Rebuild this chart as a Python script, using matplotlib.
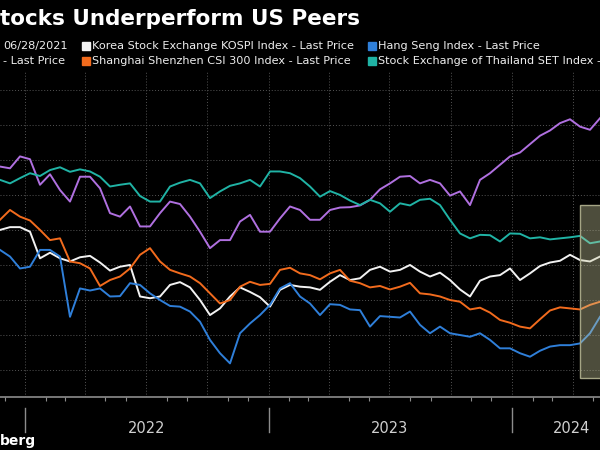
import matplotlib
matplotlib.use("Agg")
import matplotlib.pyplot as plt
import matplotlib.dates as mdates
import matplotlib.transforms as mtransforms
from matplotlib.patches import Rectangle
import pandas as pd

# visible window of the chart, sampled every 15 days
dates = pd.date_range("2021-11-24", periods=61, freq="15D")

# normalized to 100 on 06/28/2021
sp500 = [108.1, 107.6, 111.0, 110.2, 102.9, 105.9, 101.4, 98.1, 105.2, 105.2,
         101.9, 94.8, 93.8, 96.7, 91.0, 91.0, 94.8, 98.1, 97.4, 93.8,
         89.5, 84.8, 87.1, 87.1, 92.4, 94.3, 89.5, 89.5, 93.3, 96.7, 95.7,
         92.9, 92.9, 95.7, 96.4, 96.5, 97.0, 98.6, 101.6, 103.3, 105.2,
         105.4, 103.3, 104.3, 103.3, 99.8, 101.0, 97.1, 104.3, 106.2, 108.6,
         111.0, 112.1, 114.5, 116.9, 118.4, 120.5, 121.6, 119.5, 118.6, 121.9]
kospi = [90.0, 90.8, 90.8, 89.5, 81.9, 83.5, 81.9, 81.0, 82.2, 82.6,
         80.7, 78.4, 79.5, 80.0, 71.0, 70.5, 71.0, 74.3, 75.1, 73.6,
         70.0, 65.7, 67.6, 71.0, 73.6, 72.3, 70.8, 68.1, 72.9, 74.3, 73.8,
         73.6, 72.9, 75.2, 77.1, 75.7, 76.2, 78.6, 79.5, 78.1, 78.6,
         80.0, 78.1, 76.7, 77.8, 75.7, 73.0, 71.0, 75.5, 76.7, 77.1,
         79.0, 75.7, 77.6, 79.7, 80.7, 81.2, 82.9, 81.4, 81.0, 82.4]
hang_seng = [84.3, 82.4, 79.0, 79.5, 84.3, 84.3, 82.4, 65.2, 73.3, 72.7,
             73.3, 71.0, 71.1, 74.8, 74.3, 71.9, 70.0, 68.3, 68.1, 66.7,
             63.8, 58.6, 54.8, 51.9, 60.5, 63.3, 65.7, 68.6, 73.3, 74.8, 71.0,
             69.0, 65.7, 68.8, 68.6, 67.3, 67.1, 62.4, 65.4, 65.2, 65.0,
             66.7, 62.9, 60.5, 62.4, 60.5, 60.0, 59.5, 60.5, 58.6, 56.2,
             56.2, 54.8, 53.8, 55.5, 56.7, 57.1, 57.1, 57.6, 60.5, 65.2]
csi300 = [92.9, 95.7, 93.8, 92.7, 90.0, 87.1, 87.6, 81.0, 80.5, 79.0,
          74.0, 75.7, 76.7, 79.0, 82.9, 84.8, 81.0, 78.6, 77.6, 76.7,
          74.8, 71.9, 69.0, 70.0, 73.8, 75.2, 74.3, 74.6, 78.6, 79.2, 77.6,
          77.1, 75.9, 77.6, 78.6, 75.5, 74.8, 73.6, 74.0, 73.0, 73.8,
          74.9, 71.9, 71.6, 71.0, 70.0, 69.5, 67.3, 67.8, 66.4, 64.3,
          63.5, 62.4, 61.9, 64.5, 67.0, 67.9, 67.6, 67.3, 68.6, 69.5]
thai_set = [104.3, 103.3, 104.8, 106.2, 105.4, 107.1, 107.9, 106.6, 107.3, 106.7,
            105.2, 102.4, 102.9, 103.3, 99.7, 98.1, 98.1, 102.4, 103.5, 104.3,
            103.3, 99.1, 101.0, 102.6, 103.3, 104.3, 102.4, 106.7, 106.7, 106.2, 104.8,
            102.4, 99.5, 101.1, 100.0, 98.4, 97.1, 98.6, 97.6, 95.2, 97.6,
            97.0, 98.6, 98.9, 97.1, 92.9, 89.0, 87.6, 88.6, 88.5, 86.7,
            89.0, 88.9, 87.6, 87.9, 87.3, 87.6, 87.9, 88.3, 86.2, 86.7]

PURPLE, WHITE, BLUE, ORANGE, TEAL = "#b070e0", "#f2f2f2", "#2f7fd9", "#f26b1d", "#20b3a5"

W, H = 600, 450
fx = lambda px: px / W
fy = lambda py: 1 - py / H

fig = plt.figure(figsize=(6, 4.5), dpi=100, facecolor="black")
ax = fig.add_axes([0, fy(397), 1, (397 - 72) / H])
ax.set_facecolor("black")

for vals, c in [(sp500, PURPLE), (kospi, WHITE), (hang_seng, BLUE),
                (csi300, ORANGE), (thai_set, TEAL)]:
    ax.plot(dates, vals, color=c, lw=1.4, zorder=3)

# highlight box on the latest stretch
ax.add_patch(Rectangle((mdates.date2num(pd.Timestamp("2024-04-12")), 47.7), 60, 49.4,
                       facecolor=(0.8, 0.8, 0.62, 0.38), edgecolor="#a5a585",
                       lw=1, zorder=4))

ax.set_xlim(pd.Timestamp("2021-11-24"), pd.Timestamp("2024-05-12"))
ax.set_ylim(42.3, 135.1)

ax.set_yticks(range(50, 131, 10))
ax.xaxis.set_major_locator(mdates.MonthLocator(bymonth=[1, 4, 7, 10]))
ax.xaxis.set_minor_locator(mdates.MonthLocator())
ax.tick_params(axis="both", which="major", length=0, labelbottom=False, labelleft=False)
ax.tick_params(axis="x", which="minor", length=3, color="#8c8c8c", width=0.8)
ax.grid(True, which="major", color="#555555", lw=0.7, linestyle=(0, (1, 2)))

for s in ["top", "left", "right"]:
    ax.spines[s].set_visible(False)
ax.spines["bottom"].set_color("#8c8c8c")
ax.spines["bottom"].set_linewidth(1.2)

# year separators and labels under the axis
trans = mtransforms.blended_transform_factory(ax.transData, ax.transAxes)
for yr in ["2022-01-01", "2023-01-01", "2024-01-01"]:
    ax.plot([pd.Timestamp(yr)] * 2, [-0.034, -0.108], color="#8c8c8c", lw=1,
            transform=trans, clip_on=False)
for lbl, mid in [("2022", "2022-07-02"), ("2023", "2023-07-02"), ("2024", "2024-03-31")]:
    ax.text(pd.Timestamp(mid), -0.098, lbl, transform=trans, ha="center", va="center",
            color="#d0d0d0", fontsize=10.5)

# title, legend and source (cropped at the left edge like the reference)
fig.text(fx(0), fy(25), "tocks Underperform US Peers", color="white", fontsize=15.5,
         fontweight="bold", ha="left", va="baseline")

lf = dict(color="#eeeeee", fontsize=8.1, va="center", ha="left",
          family=["Liberation Sans Narrow", "DejaVu Sans"])
fig.text(fx(3), fy(46), "06/28/2021", **lf)
fig.text(fx(3), fy(61), "- Last Price", **lf)
entries = [(82, 46, WHITE, "Korea Stock Exchange KOSPI Index - Last Price"),
           (368, 46, BLUE, "Hang Seng Index - Last Price"),
           (82, 61, ORANGE, "Shanghai Shenzhen CSI 300 Index - Last Price"),
           (368, 61, TEAL, "Stock Exchange of Thailand SET Index -")]
for px, py, c, txt in entries:
    fig.patches.append(Rectangle((fx(px), fy(py + 4)), 8 / W, 8 / H, color=c,
                                 transform=fig.transFigure, figure=fig))
    fig.text(fx(px + 10), fy(py), txt, **lf)

fig.text(fx(0), fy(441), "berg", color="white", fontsize=10, fontweight="bold",
         ha="left", va="center")

plt.savefig("out.png", dpi=100, facecolor="black")
